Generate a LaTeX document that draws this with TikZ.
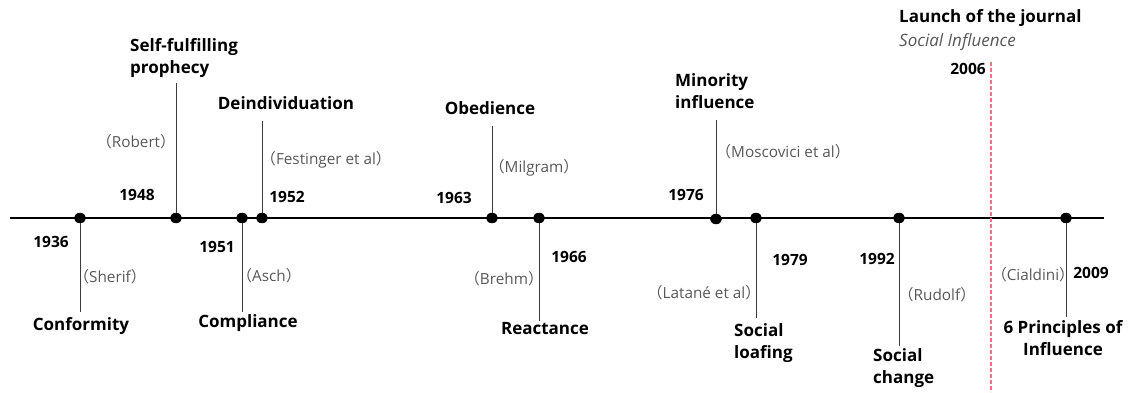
\documentclass[tikz,border=0pt]{standalone}
\usepackage{fontspec}
\setmainfont{Open Sans}
\newfontfamily\cjk{Noto Sans CJK SC}
\usetikzlibrary{positioning,shapes.geometric}
\definecolor{whogray}{RGB}{88,88,88}
\definecolor{stemgray}{RGB}{60,60,60}
\definecolor{launchred}{RGB}{230,120,125}
\newcommand\byname[1]{{\cjk （}#1{\cjk ）}}

\begin{document}
\begin{tikzpicture}[line cap=butt,line join=round,x=1pt,y=-1pt,
    event/.style={font=\bfseries\fontsize{17}{22}\selectfont,align=left,inner sep=1pt},
    year/.style={font=\bfseries\fontsize{15.5}{18}\selectfont,inner sep=1pt},
    who/.style={font=\fontsize{15.3}{17}\selectfont,text=whogray,inner sep=1pt},
    dot/.style={ellipse,fill=black,inner sep=0pt,minimum width=12pt,minimum height=10.5pt},
    stem/.style={draw=stemgray,line width=1pt,shorten >=4pt}]
        \useasboundingbox (0,0) rectangle (1136,393);
        % time axis
        \coordinate (axisL) at (10,218);
        \coordinate (axisR) at (1104,218);
        \draw [line width=2pt] (axisL) -- (axisR);
        % events on the axis
        \node[dot] (d1936) at (80,218) {};
        \node[dot] (d1948) at (176,218) {};
        \node[dot] (d1951) at (242,218) {};
        \node[dot] (d1952) at (262,218) {};
        \node[dot] (d1963) at (492,218) {};
        \node[dot] (d1966) at (539,218) {};
        \node[dot] (d1976) at (716,219) {};
        \node[dot] (d1979) at (756,218) {};
        \node[dot] (d1992) at (899,218) {};
        \node[dot] (d2009) at (1066,218) {};
        % concepts
        \node[event] (conformity) at (81,326) {Conformity};
        \node[event,anchor=west] (prophecy) at (129,58) {Self-fulfilling\\prophecy};
        \node[event] (compliance) at (248,323) {Compliance};
        \node[event] (deindiv) at (286,103) {Deindividuation};
        \node[event] (obedience) at (490,108) {Obedience};
        \node[event] (reactance) at (545,329) {Reactance};
        \node[event,anchor=west] (minority) at (674,91) {Minority\\influence};
        \node[event,anchor=west] (loafing) at (733,343) {Social\\loafing};
        \node[event,anchor=west] (change) at (872,368) {Social\\change};
        \node[event,align=center] (principles) at (1063,338) {6 Principles of\\Influence};
        % years
        \node[year] (y1936) at (51,242) {1936};
        \node[year] (y1948) at (137,195) {1948};
        \node[year] (y1951) at (217,247) {1951};
        \node[year] (y1952) at (287,197) {1952};
        \node[year] (y1963) at (454,198) {1963};
        \node[year] (y1966) at (569,257) {1966};
        \node[year] (y1976) at (686,195) {1976};
        \node[year] (y1979) at (790,260) {1979};
        \node[year] (y1992) at (877,259) {1992};
        \node[year] (y2006) at (968,69) {2006};
        \node[year] (y2009) at (1091,273) {2009};
        % authors
        \node[who] (sherif) at (110,277) {\byname{Sherif}};
        \node[who] (robert) at (136,142) {\byname{Robert}};
        \node[who] (asch) at (269,276) {\byname{Asch}};
        \node[who] (festinger) at (326,160) {\byname{Festinger et al}};
        \node[who] (milgram) at (534,168) {\byname{Milgram}};
        \node[who] (brehm) at (504,279) {\byname{Brehm}};
        \node[who] (moscovici) at (783,152) {\byname{Moscovici et al}};
        \node[who] (latane) at (704,293) {\byname{Latané et al}};
        \node[who] (rudolf) at (937,295) {\byname{Rudolf}};
        \node[who] (cialdini) at (1033,275) {\byname{Cialdini}};
        % stems
        \draw[stem] (d1936) -- (d1936 |- conformity.north);
        \draw[stem] (d1948) -- (d1948 |- prophecy.south);
        \draw[stem,shorten >=1pt] (d1951) -- (d1951 |- compliance.north);
        \draw[stem,shorten >=10pt] (d1952) -- (d1952 |- deindiv.south);
        \draw[stem,shorten >=10pt] (d1963) -- (d1963 |- obedience.south);
        \draw[stem,shorten >=1pt] (d1966) -- (d1966 |- reactance.north);
        \draw[stem,shorten >=10pt] (d1976) -- (d1976 |- minority.south);
        \draw[stem] (d1979) -- (d1979 |- loafing.north);
        \draw[stem,shorten >=1pt] (d1992) -- (d1992 |- change.north);
        \draw[stem,shorten >=2pt] (d2009) -- (d2009 |- principles.north);
        % journal launch
        \node[event,anchor=west] (launch) at (898,18) {Launch of the journal};
        \node[anchor=west,inner sep=1pt,font=\itshape\fontsize{17}{22}\selectfont,text=whogray] (journal) at (898,42) {Social Influence};
        \coordinate (launchtop) at (991,62);
        \coordinate (launchbot) at (991,392);
        \draw[launchred,line width=1.5pt,dash pattern=on 4pt off 2pt] (launchtop) -- (launchbot);
\end{tikzpicture}
\end{document}
